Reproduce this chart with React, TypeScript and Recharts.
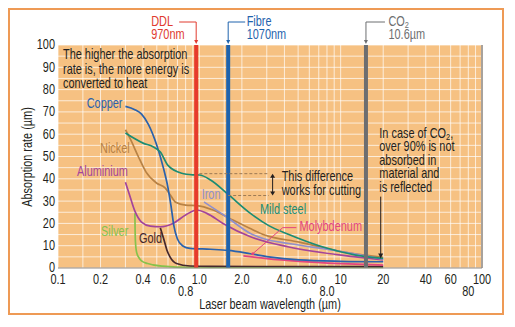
import { LineChart, Line, XAxis, YAxis, CartesianGrid, ReferenceLine } from 'recharts'

const FONT = '"Liberation Sans", Arial, sans-serif'
const INK = '#231f20'
const NARROW = 0.78

// wavelength (µm), absorption rate
const copper = [[0.3, 72.5], [0.35, 71], [0.39, 69], [0.435, 64.5], [0.5, 55], [0.556, 45], [0.6, 36], [0.63, 28], [0.66, 19], [0.7, 13], [0.76, 10], [0.86, 8.8], [1.2, 8.4], [1.6, 7.9], [2.3, 6.4], [3.1, 5], [5.1, 3.6], [10, 3], [20, 2.8]]
const mildSteel = [[0.3, 60.5], [0.4, 56], [0.47, 54.4], [0.53, 52], [0.6, 46], [0.75, 42.5], [0.9, 41.8], [1.0, 41.7], [1.2, 39.5], [1.6, 33], [2.3, 24.5], [3.1, 19], [4.3, 15], [7.5, 9.4], [12.8, 5.8], [20, 4.3]]
const nickel = [[0.3, 62], [0.324, 58], [0.37, 50], [0.42, 43], [0.5, 38], [0.57, 36], [0.62, 33], [0.68, 29.5], [0.8, 28.2], [0.96, 28], [1.25, 26], [1.64, 22.2], [2.27, 17.8], [2.9, 14.8], [5.1, 11.6], [9.8, 7.5], [20, 4.8]]
const aluminium = [[0.3, 38.5], [0.32, 33], [0.35, 25.5], [0.39, 20.6], [0.45, 18.8], [0.53, 18.5], [0.65, 20], [0.81, 24], [0.96, 26], [1.13, 24.5], [1.47, 20], [2.3, 14], [4.3, 9.4], [12.8, 5], [20, 3.6]]
const iron = [[1.08, 29.6], [1.55, 23], [2.3, 15.5], [2.9, 13], [4.3, 11], [9.8, 7.5], [20, 4]]
const molybdenum = [[2.05, 5.4], [3, 4.2], [5.1, 3], [10, 2], [20, 1.3]]
const gold = [[0.53, 18], [0.56, 13], [0.59, 8], [0.62, 5], [0.69, 2], [0.86, 0.9], [1.2, 0.7], [20, 0.6]]
const silver = [[0.35, 24.5], [0.351, 18], [0.353, 12], [0.36, 7], [0.375, 4.5], [0.39, 3.2], [0.43, 2], [0.47, 1.4], [0.55, 0.8], [0.69, 0.4], [1, 0.3], [20, 0.3]]

const xTicks = [0.1, 0.2, 0.4, 0.6, 0.8, 1, 2, 4, 6, 8, 10, 20, 40, 60, 80, 100]
const xTickLabels = ['0.1', '0.2', '0.4', '0.6', '0.8', '1.0', '2.0', '4.0', '6.0', '8.0', '10', '20', '40', '60', '80', '100']
const lowerRow = [0.8, 8, 80]
const yTicks = [0, 10, 20, 30, 40, 50, 60, 70, 80, 90, 100]
const gridX = [0.1, 0.15, 0.2, 0.3, 0.4, 0.5, 0.6, 0.7, 0.8, 0.9, 1, 1.5, 2, 3, 4, 5, 6, 7, 8, 9, 10, 15, 20, 30, 40, 50, 60, 70, 80, 90, 100]
const gridY = [0, 5, 10, 15, 20, 25, 30, 35, 40, 45, 50, 55, 60, 65, 70, 75, 80, 85, 90, 95, 100]

// laser wavelengths as placed on the chart
const ddl = 0.95
const fibre = 1.6
const co2 = 15.1

// "This difference works for cutting" marks
const diffTop = 42.3
const diffBottom = 32.5
const diffEnd = 3.1
const diffArrowX = 3.3
const co2Arrow = [[19.2, 32], [19.2, 4.3]]
const molyLeader = [[4.86, 18.1], [3.89, 18.1], [2.39, 6.4]]

const pts = (a: number[][]) => a.map(([x, y]) => ({ x, y }))

const series = [
  { name: 'Silver', data: silver, color: '#86c24c' },
  { name: 'Gold', data: gold, color: '#45282d' },
  { name: 'Molybdenum', data: molybdenum, color: '#e2457f' },
  { name: 'Aluminium', data: aluminium, color: '#a3449b' },
  { name: 'Nickel', data: nickel, color: '#b88245' },
  { name: 'Iron', data: iron, color: '#9090cc' },
  { name: 'Copper', data: copper, color: '#2a62ad' },
  { name: 'Mild steel', data: mildSteel, color: '#1c8c73' },
]

// condensed text: the source uses a narrow face, so squeeze Liberation Sans horizontally
function NText({ x, y, anchor = 'start', color = INK, size = 14, rotate = 0, children }: any) {
  return (
    <g transform={`translate(${x},${y}) rotate(${rotate}) scale(${NARROW},1)`}>
      <text x={0} y={0} textAnchor={anchor} dominantBaseline="central" fill={color} fontSize={size}>{children}</text>
    </g>
  )
}

function XTick({ x, y, payload }: any) {
  const i = xTicks.indexOf(payload.value)
  const low = lowerRow.includes(payload.value)
  return <NText x={x} y={y + (low ? 24 : 11.5)} anchor="middle">{xTickLabels[i]}</NText>
}

function YTick({ x, y, payload }: any) {
  return <NText x={x} y={y} anchor="end">{payload.value}</NText>
}

function tag(side: 'left' | 'right', top: string, bottom: string, color: string, gap: number, textOff: number, sub?: string) {
  return (props: any) => {
    const { x, y } = props.viewBox
    const hx = side === 'left' ? x - gap : x + gap
    const tx = side === 'left' ? x - textOff : x + textOff
    return (
      <g>
        <path d={`M${hx},${y - 23} H${x} V${y - 4}`} stroke={color} strokeWidth={1} fill="none" />
        <path d={`M${x - 2},${y - 5} L${x + 2},${y - 5} L${x},${y - 1} Z`} fill={color} />
        <NText x={tx} y={y - 23} color={color}>
          {top}
          {sub && <tspan fontSize={9.5} dy={3}>{sub}</tspan>}
        </NText>
        <NText x={tx} y={y - 10} color={color}>{bottom}</NText>
      </g>
    )
  }
}

function doubleArrow(p: any) {
  const { x1, y1, x2, y2 } = p
  const t = Math.min(y1, y2)
  const b = Math.max(y1, y2)
  return (
    <g>
      <line x1={x1} y1={t + 3} x2={x2} y2={b - 3} stroke={INK} strokeWidth={1} />
      <path d={`M${x1 - 2.5},${t + 4} L${x1 + 2.5},${t + 4} L${x1},${t} Z`} fill={INK} />
      <path d={`M${x1 - 2.5},${b - 4} L${x1 + 2.5},${b - 4} L${x1},${b} Z`} fill={INK} />
    </g>
  )
}

function downArrow(p: any) {
  const { x1, y1, x2, y2 } = p
  const t = Math.min(y1, y2)
  const b = Math.max(y1, y2)
  return (
    <g>
      <line x1={x1} y1={t} x2={x2} y2={b - 3} stroke={INK} strokeWidth={1} />
      <path d={`M${x1 - 2.5},${b - 5} L${x1 + 2.5},${b - 5} L${x1},${b} Z`} fill={INK} />
    </g>
  )
}

function dotEnd(p: any) {
  const { x1, y1, x2, y2 } = p
  return (
    <g>
      <line x1={x1} y1={y1} x2={x2} y2={y2} stroke="#e2457f" strokeWidth={1} />
      <circle cx={x2} cy={y2} r={1.6} fill="#e2457f" />
    </g>
  )
}

const seriesLabels = [
  { text: 'Copper', x: 76.7, y: 93.3, color: '#2a62ad' },
  { text: 'Nickel', x: 90, y: 138.3, color: '#b88245' },
  { text: 'Aluminium', x: 67, y: 161.7, color: '#a3449b' },
  { text: 'Silver', x: 91, y: 221.7, color: '#86c24c' },
  { text: 'Gold', x: 129, y: 228.3, color: '#45282d' },
  { text: 'Iron', x: 191.7, y: 185, color: '#9090cc' },
  { text: 'Mild steel', x: 250, y: 200, color: '#1c8c73' },
  { text: 'Molybdenum', x: 289.5, y: 217, color: '#e2457f' },
]

const notes = [
  { text: 'The higher the absorption', x: 53, y: 45 },
  { text: 'rate is, the more energy is', x: 53, y: 59.3 },
  { text: 'converted to heat', x: 53, y: 73.3 },
  { text: 'This difference', x: 271.7, y: 166.7 },
  { text: 'works for cutting', x: 271.7, y: 180.7 },
  { text: 'over 90% is not', x: 369.3, y: 136.8 },
  { text: 'absorbed in', x: 369.3, y: 150.3 },
  { text: 'material and', x: 369.3, y: 163.8 },
  { text: 'is reflected', x: 369.3, y: 177.5 },
]

export default function App() {
  return (
    <div style={{ position: 'relative', width: 496, height: 307, border: '2px solid #ee9a55', boxSizing: 'border-box', fontFamily: FONT, background: '#fff' }}>
      <LineChart width={492} height={303} margin={{ top: 35, right: 20, left: 8, bottom: 15 }}>
        <CartesianGrid fill="#f6c182" fillOpacity={1} stroke="#ffffff" strokeOpacity={0.7} horizontalValues={gridY} verticalValues={gridX} />
        <XAxis dataKey="x" type="number" scale="log" domain={[0.1, 100]} allowDataOverflow ticks={xTicks} interval={0}
          tick={<XTick />} tickSize={0} tickMargin={0} height={30} axisLine={{ stroke: '#8f8a86' }} />
        <YAxis type="number" domain={[0, 100]} ticks={yTicks} interval={0} width={40} tickSize={0} tickMargin={3}
          axisLine={false} tick={<YTick />} />
        <ReferenceLine x={100} stroke="#a8a29c" strokeWidth={2} ifOverflow="visible" />
        {series.map(s => (
          <Line key={s.name} data={pts(s.data)} dataKey="y" type="monotone" stroke={s.color} strokeWidth={1.7}
            dot={false} isAnimationActive={false} />
        ))}
        <ReferenceLine x={ddl} stroke="#e63a2c" strokeWidth={4} label={tag('left', 'DDL', '970nm', '#e03a2f', 17, 45)} />
        <ReferenceLine x={fibre} stroke="#1f63ad" strokeWidth={4} label={tag('right', 'Fibre', '1070nm', '#1f63ad', 17, 18.5)} />
        <ReferenceLine x={co2} stroke="#6d6e70" strokeWidth={4} label={tag('right', 'CO', '10.6µm', '#6d6e70', 19, 22.5, '2')} />
        <ReferenceLine segment={[{ x: 1, y: diffTop }, { x: diffEnd, y: diffTop }]} stroke="#9c7a55" strokeDasharray="3 2" />
        <ReferenceLine segment={[{ x: fibre, y: diffBottom }, { x: diffEnd, y: diffBottom }]} stroke="#9c7a55" strokeDasharray="3 2" />
        <ReferenceLine segment={[{ x: diffArrowX, y: diffTop }, { x: diffArrowX, y: diffBottom }]} shape={doubleArrow} />
        <ReferenceLine segment={[{ x: co2Arrow[0][0], y: co2Arrow[0][1] }, { x: co2Arrow[1][0], y: co2Arrow[1][1] }]} shape={downArrow} />
        <ReferenceLine segment={[{ x: molyLeader[0][0], y: molyLeader[0][1] }, { x: molyLeader[1][0], y: molyLeader[1][1] }]} stroke="#e2457f" />
        <ReferenceLine segment={[{ x: molyLeader[1][0], y: molyLeader[1][1] }, { x: molyLeader[2][0], y: molyLeader[2][1] }]} shape={dotEnd} />
      </LineChart>
      <svg width={492} height={303} style={{ position: 'absolute', left: 0, top: 0, pointerEvents: 'none' }}>
        {notes.map(n => <NText key={n.text} x={n.x} y={n.y}>{n.text}</NText>)}
        <NText x={369.3} y={123.3}>In case of CO<tspan fontSize={9.5} dy={3}>2</tspan><tspan dy={-3}>,</tspan></NText>
        <NText x={260} y={295} anchor="middle">Laser beam wavelength (µm)</NText>
        <NText x={18} y={147} anchor="middle" rotate={-90}>Absorption rate (µm)</NText>
        {seriesLabels.map(l => <NText key={l.text} x={l.x} y={l.y} color={l.color}>{l.text}</NText>)}
      </svg>
    </div>
  )
}
